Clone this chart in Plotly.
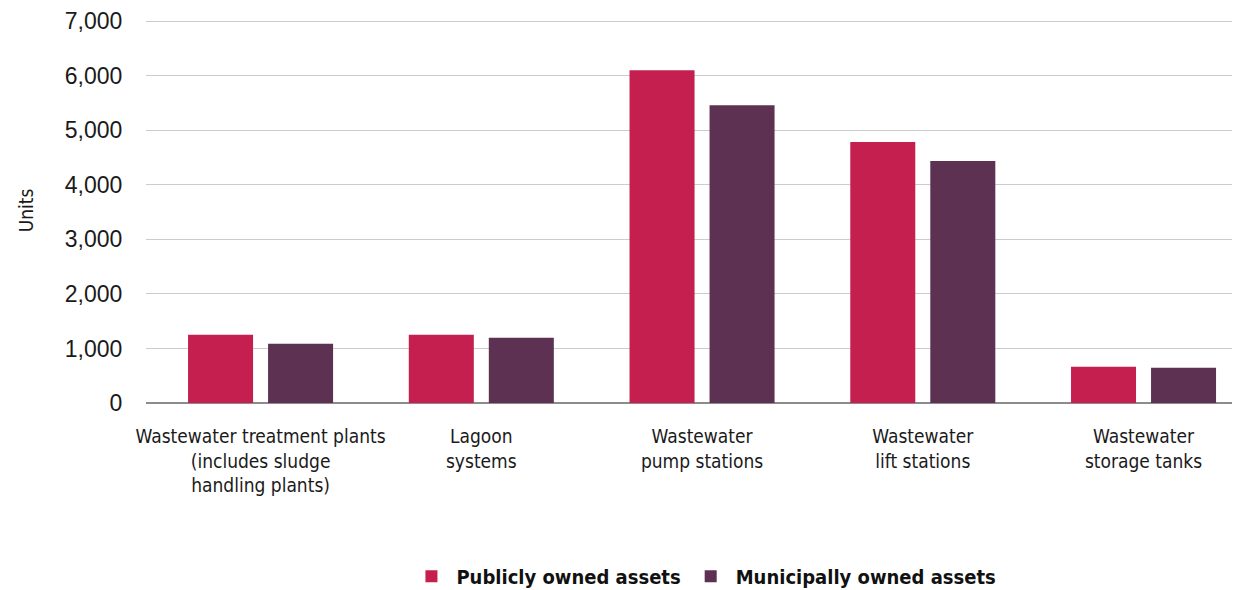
import plotly.graph_objects as go

categories = [
    "Wastewater treatment plants<br>(includes sludge<br>handling plants)",
    "Lagoon<br>systems",
    "Wastewater<br>pump stations",
    "Wastewater<br>lift stations",
    "Wastewater<br>storage tanks",
]
publicly_owned = [1250, 1250, 6100, 4785, 665]
municipally_owned = [1085, 1195, 5460, 4440, 648]
y_ticks = [0, 1000, 2000, 3000, 4000, 5000, 6000, 7000]

RED = "#C41F4E"
PURPLE = "#5D3152"
NARROW = "DejaVu Sans Condensed, Liberation Sans Narrow, sans-serif"
ARIAL = "Liberation Sans, Arial, sans-serif"

fig = go.Figure()
fig.add_trace(go.Bar(
    x=categories, y=publicly_owned, name="<b>Publicly owned assets</b>",
    marker=dict(color=RED, line=dict(width=0)),
))
fig.add_trace(go.Bar(
    x=categories, y=municipally_owned, name="<b>Municipally owned assets</b>",
    marker=dict(color=PURPLE, line=dict(width=0)),
))

# page body has an 8px margin, so the figure is sized to the visible area
fig.update_layout(
    width=1232, height=582,
    margin=dict(l=138, r=0, t=9.7, b=186.5, autoexpand=False),
    paper_bgcolor="white", plot_bgcolor="white",
    barmode="group", bargap=0.275, bargroupgap=0.1875,
    showlegend=True,
    legend=dict(
        orientation="h", x=0.51, xanchor="center", y=-0.4497, yanchor="middle",
        font=dict(family=NARROW, size=20, color="#111111"),
        itemwidth=40,
    ),
    xaxis=dict(
        type="category",
        range=[-0.519, 4.437],
        automargin=False,
        showgrid=False, showline=False, zeroline=False,
        ticks="outside", ticklen=16, tickcolor="rgba(0,0,0,0)",
        tickfont=dict(family=NARROW, size=19, color="#1a1a1a"),
    ),
    yaxis=dict(
        range=[0, 7060],
        automargin=False,
        ticklabeloverflow="allow",
        tickvals=y_ticks,
        tickformat=",d",
        showgrid=True, gridcolor="#cccccc", gridwidth=1,
        zeroline=True, zerolinecolor="#8c8c8c", zerolinewidth=2,
        showline=False,
        ticks="outside", ticklen=18, tickcolor="rgba(0,0,0,0)",
        tickfont=dict(family=ARIAL, size=23, color="#1a1a1a"),
        title=dict(text="Units", font=dict(family=NARROW, size=19, color="#1a1a1a"), standoff=26),
    ),
)

fig.write_html("out.html")
